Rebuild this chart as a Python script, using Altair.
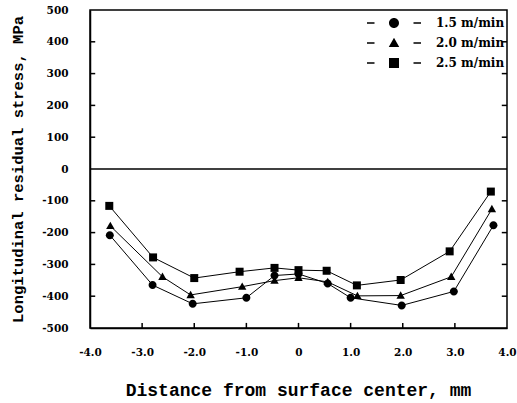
import altair as alt
import pandas as pd

series_names = ["1.5 m/min", "2.0 m/min", "2.5 m/min"]

x_15 = [-3.62, -2.8, -2.03, -1.0, -0.46, 0.0, 0.56, 1.0, 1.98, 2.98, 3.74]
y_15 = [-208, -365, -424, -405, -335, -330, -360, -405, -429, -385, -177]

x_20 = [-3.61, -2.61, -2.07, -1.08, -0.46, 0.0, 0.56, 1.13, 1.96, 2.93, 3.71]
y_20 = [-179, -339, -396, -370, -351, -342, -355, -399, -398, -339, -126]

x_25 = [-3.63, -2.79, -2.0, -1.13, -0.46, 0.0, 0.54, 1.12, 1.96, 2.9, 3.69]
y_25 = [-116, -278, -343, -323, -311, -318, -320, -366, -349, -259, -71]

x_ticks = [-4, -3, -2, -1, 0, 1, 2, 3, 4]
y_ticks = [-500, -400, -300, -200, -100, 0, 100, 200, 300, 400, 500]
x_inner_ticks = [-3, -2, -1, 0, 1, 2, 3]
y_inner_ticks = [-400, -300, -200, -100, 100, 200, 300, 400]

rows = []
for name, xs, ys in [(series_names[0], x_15, y_15),
                     (series_names[1], x_20, y_20),
                     (series_names[2], x_25, y_25)]:
    for xv, yv in zip(xs, ys):
        rows.append({"series": name, "x": xv, "y": yv})
df = pd.DataFrame(rows)

circle = "M-1,0A1,1 0 1,0 1,0A1,1 0 1,0 -1,0Z"
tri = "M0,-1.05L1.05,0.8L-1.05,0.8Z"
square = "M-1,-1H1V1H-1Z"
dash = "M-5.4,-0.13H-3.9V0.13H-5.4ZM3.9,-0.13H5.4V0.13H3.9Z"

num_font = "DejaVu Serif"
title_font = "Liberation Mono"

x_scale = alt.Scale(domain=[-4, 4], nice=False, zero=False)
y_scale = alt.Scale(domain=[-500, 500], nice=False)

x_axis = alt.Axis(
    values=x_ticks,
    labelExpr="datum.value == 0 ? '0' : (datum.value < 0 ? '-' : '') + format(abs(datum.value), '.1f')",
    title="Distance from surface center, mm",
    titleFont=title_font, titleFontSize=18, titleFontWeight="bold",
    titleX=208, titleY=62, titleBaseline="middle", titleAlign="center",
    labelFont=num_font, labelFontSize=10.5, labelFontWeight="bold",
    labelPadding=19, ticks=False, labelOverlap=False,
    domainColor="black", domainWidth=1.5, grid=False, labelColor="black",
    titleColor="black", labelFlush=False,
)
y_axis = alt.Axis(
    values=y_ticks,
    labelExpr="'' + datum.value",
    title="Longitudinal residual stress, MPa",
    titleFont=title_font, titleFontSize=15.5, titleFontWeight="bold",
    titleX=-73, titleY=159, titleAngle=-90, titleBaseline="middle", titleAlign="center",
    labelFont=num_font, labelFontSize=10.5, labelFontWeight="bold",
    labelPadding=22, ticks=False, labelOverlap=False,
    domainColor="black", domainWidth=1.5, grid=False, labelColor="black",
    titleColor="black", labelFlush=False,
)

base = alt.Chart(df)

lines = base.mark_line(color="black", strokeWidth=1).encode(
    x=alt.X("x:Q", scale=x_scale, axis=x_axis),
    y=alt.Y("y:Q", scale=y_scale, axis=y_axis),
    detail="series:N",
)

points = base.mark_point(filled=True, color="black", opacity=1, size=64).encode(
    x=alt.X("x:Q", scale=x_scale, axis=x_axis),
    y=alt.Y("y:Q", scale=y_scale, axis=y_axis),
    shape=alt.Shape("series:N",
                    scale=alt.Scale(domain=series_names, range=[circle, tri, square]),
                    legend=None),
)

legend_layer = base.mark_point(filled=True, color="black", opacity=0, size=64).encode(
    x=alt.X("x:Q", scale=x_scale, axis=x_axis),
    y=alt.Y("y:Q", scale=y_scale, axis=y_axis),
    shape=alt.Shape("series:N",
                    scale=alt.Scale(domain=series_names,
                                    range=[dash + circle, dash + tri, dash + square]),
                    legend=alt.Legend(
                        title=None, orient="none", legendX=298, legendY=7,
                        padding=0, symbolOpacity=1, symbolFillColor="black",
                        symbolStrokeColor="black", symbolStrokeWidth=0,
                        labelFont=num_font, labelFontSize=12, labelFontWeight="bold",
                        labelColor="black", labelOffset=36, rowPadding=8,
                    )),
)

zero = alt.Chart(pd.DataFrame({"z": [0]})).mark_rule(color="black", strokeWidth=1.5).encode(
    y=alt.Y("z:Q", scale=y_scale, axis=y_axis)
)

xt = alt.Chart(pd.DataFrame({"t": x_inner_ticks, "b": -500, "e": -484})).mark_rule(
    color="black", strokeWidth=1.5).encode(
    x=alt.X("t:Q", scale=x_scale, axis=x_axis),
    y=alt.Y("b:Q", scale=y_scale, axis=y_axis),
    y2="e:Q",
)
yt_left = alt.Chart(pd.DataFrame({"t": y_inner_ticks, "b": -4.0, "e": -3.9})).mark_rule(
    color="black", strokeWidth=1.5).encode(
    y=alt.Y("t:Q", scale=y_scale, axis=y_axis),
    x=alt.X("b:Q", scale=x_scale, axis=x_axis),
    x2="e:Q",
)
yt_right = alt.Chart(pd.DataFrame({"t": y_inner_ticks, "b": 3.9, "e": 4.0})).mark_rule(
    color="black", strokeWidth=1.5).encode(
    y=alt.Y("t:Q", scale=y_scale, axis=y_axis),
    x=alt.X("b:Q", scale=x_scale, axis=x_axis),
    x2="e:Q",
)

chart = alt.layer(lines, zero, xt, yt_left, yt_right, points, legend_layer).resolve_scale(
    shape="independent"
).properties(
    width=417, height=318,
    padding={"left": 90, "top": 10, "right": 10, "bottom": 75},
    autosize=alt.AutoSizeParams(type="none"),
    background="white",
).configure_view(stroke="black", strokeWidth=1.5).configure_axis(labelOverlap=False)

chart.save("out.html", embed_options={"renderer": "svg", "actions": False})
